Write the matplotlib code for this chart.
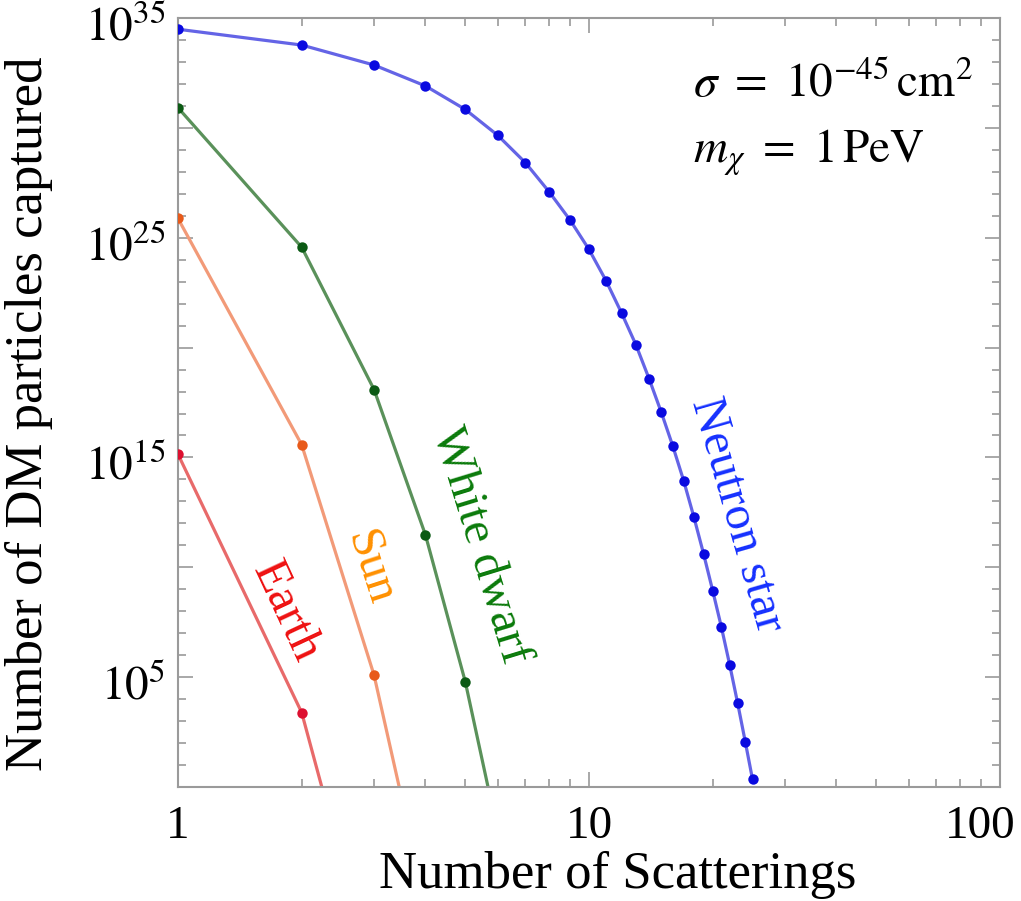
import numpy as np
import matplotlib
matplotlib.use("Agg")
import matplotlib.pyplot as plt
from matplotlib.transforms import ScaledTranslation

plt.rcParams['font.family'] = ['Liberation Serif', 'DejaVu Serif']
plt.rcParams['mathtext.fontset'] = 'stix'

# log10 of captured particle number vs. number of scatterings
n_earth = [1, 2, 3]
logN_earth = [15.15, 3.39, -8.8]

n_sun = [1, 2, 3, 4]
logN_sun = [25.88, 15.58, 5.09, -5.3]

n_wd = [1, 2, 3, 4, 5, 6]
logN_wd = [30.92, 24.57, 18.09, 11.48, 4.80, -2.05]

n_ns = list(range(1, 26))
logN_ns = [34.49, 33.77, 32.86, 31.91, 30.84, 29.66, 28.42, 27.09, 25.80,
           24.47, 23.05, 21.58, 20.14, 18.59, 17.05, 15.51, 13.94, 12.29,
           10.62, 8.94, 7.28, 5.56, 3.82, 2.07, 0.35]

ytick_exp = [0, 5, 10, 15, 20, 25, 30, 35]
ytick_labeled = [5, 15, 25, 35]
xtick_vals = [1, 10, 100]
xtick_labels = ['1', '10', '100']

fig = plt.figure(figsize=(10.21, 9.01), dpi=100)
ax = fig.add_axes([0.1743, 0.1265, 0.8051, 0.8535])

series = [
    (n_earth, logN_earth, '#e86a6a', '#dd1030'),
    (n_sun, logN_sun, '#f29a78', '#e85a1a'),
    (n_wd, logN_wd, '#5a915a', '#0b5a14'),
    (n_ns, logN_ns, '#6464e6', '#0a0ae0'),
]
for n, logN, lc, mc in series:
    vals = 10.0 ** np.array(logN)
    ax.plot(n, vals, '-', color=lc, lw=2.3, zorder=2)
    ax.plot(n, vals, 'o', color=mc, ms=7.5, mec='none', zorder=3)

ax.set_xscale('log')
ax.set_yscale('log')
ax.set_xlim(1, 100)
ax.set_ylim(1e0, 1e35)

ax.set_yticks([10.0 ** e for e in ytick_exp])
ax.set_yticklabels([r'$10^{%d}$' % e if e in ytick_labeled else '' for e in ytick_exp])
ax.set_yticks([10.0 ** e for e in range(0, 36)], minor=True)
ax.set_xticks(xtick_vals)
ax.set_xticklabels(xtick_labels)
ax.set_xticks([k * 10 ** d for d in range(2) for k in range(2, 10)], minor=True)
ax.yaxis.set_minor_formatter(plt.NullFormatter())
ax.xaxis.set_minor_formatter(plt.NullFormatter())

ax.tick_params(which='both', direction='in', top=True, right=True,
               color='#9a9a9a', width=1.2, labelsize=34)
ax.tick_params(which='major', length=11)
ax.tick_params(which='minor', length=6)
ax.tick_params(axis='x', pad=13)
ax.tick_params(axis='y', pad=9)
for sp in ax.spines.values():
    sp.set_color('#9a9a9a')
    sp.set_linewidth(1.5)

# nudge the y labels down a little, keep the "100" label inside the figure
for lab in ax.get_yticklabels():
    lab.set_transform(lab.get_transform() + ScaledTranslation(0, -0.05, fig.dpi_scale_trans))
last = ax.get_xticklabels()[-1]
last.set_transform(last.get_transform() + ScaledTranslation(-0.2, 0, fig.dpi_scale_trans))

ax.set_xlabel('Number of Scatterings', fontsize=38)
ax.set_ylabel('Number of DM particles captured', fontsize=38)
ax.xaxis.set_label_coords(0.535, -0.083)
ax.yaxis.set_label_coords(-0.152, 0.485)

ax.text(0.627, 0.897, r'$\sigma\ =\ 10^{-45}\,\mathrm{cm}^2$', transform=ax.transAxes,
        fontsize=34, ha='left', va='baseline')
ax.text(0.627, 0.812, r'$m_\chi\ =\ 1\,\mathrm{PeV}$', transform=ax.transAxes,
        fontsize=34, ha='left', va='baseline')

# curve labels, placed in pixel coordinates of the figure
labels = [
    ('Earth', 286, 612, -65, '#ee1111'),
    ('Sun', 370, 568, -72, '#ff9000'),
    ('White dwarf', 480, 545, -73, '#0a7a0a'),
    ('Neutron star', 737, 515, -74, '#1530ff'),
]
for txt, px, py, rot, col in labels:
    fig.text(px / 1021, 1 - py / 901, txt, color=col, fontsize=35,
             rotation=rot, ha='center', va='center', rotation_mode='anchor')

fig.savefig('out.png', dpi=100, facecolor='white')
